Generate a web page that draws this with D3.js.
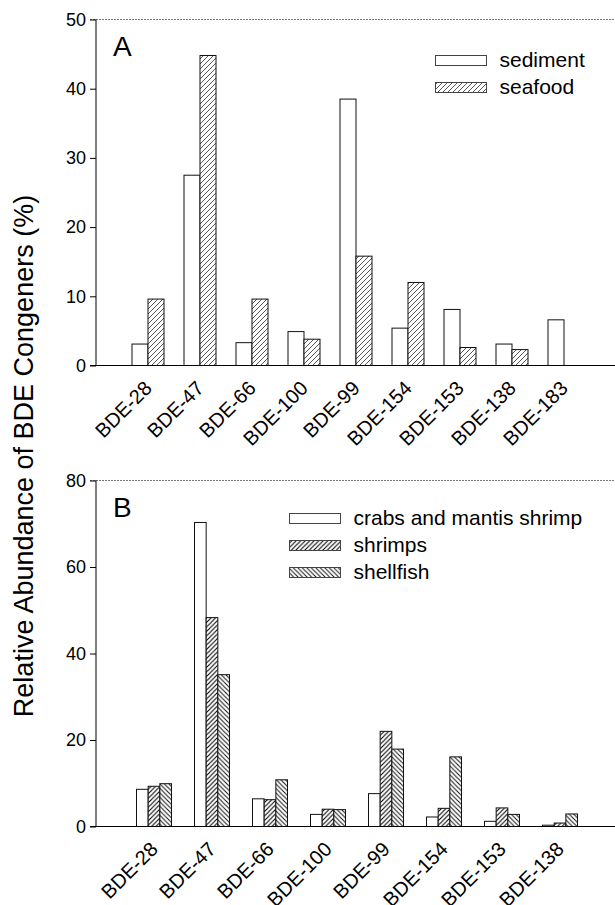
<!DOCTYPE html>
<html>
<head>
<meta charset="utf-8">
<script src="https://cdn.jsdelivr.net/npm/d3@7"></script>
<style>
  body { margin: 0; background: #fff; }
  svg { display: block; font-family: "Liberation Sans", Arial, sans-serif; }
  .c-axis text { fill: #000; }
  .c-bar { stroke: #111; stroke-width: 1; }
</style>
</head>
<body>
<svg id="chart" width="615" height="905"></svg>
<script>
// Panel A: sediment vs seafood
const congenersA = ["BDE-28", "BDE-47", "BDE-66", "BDE-100", "BDE-99",
  "BDE-154", "BDE-153", "BDE-138", "BDE-183"];
const seriesA = ["sediment", "seafood"];
const sedimentValues = [3.1, 27.5, 3.3, 4.9, 38.5, 5.4, 8.1, 3.1, 6.6];
const seafoodValues = [9.6, 44.8, 9.6, 3.8, 15.8, 12.0, 2.6, 2.3, 0];
const ticksA = [0, 10, 20, 30, 40, 50];

// Panel B: seafood groups
const congenersB = ["BDE-28", "BDE-47", "BDE-66", "BDE-100", "BDE-99",
  "BDE-154", "BDE-153", "BDE-138"];
const seriesB = ["crabs and mantis shrimp", "shrimps", "shellfish"];
const crabsValues = [8.6, 70.3, 6.4, 2.8, 7.6, 2.2, 1.2, 0.3];
const shrimpsValues = [9.3, 48.3, 6.2, 4.0, 22.0, 4.2, 4.3, 0.8];
const shellfishValues = [9.9, 35.1, 10.8, 3.9, 17.9, 16.1, 2.8, 2.9];
const ticksB = [0, 20, 40, 60, 80];

const svg = d3.select("#chart");

// hatch fills
const defs = svg.append("defs");
function addHatch(id, size, dir, strokeWidth, color) {
  const p = defs.append("pattern")
    .attr("id", id)
    .attr("patternUnits", "userSpaceOnUse")
    .attr("width", size)
    .attr("height", size);
  p.append("rect").attr("width", size).attr("height", size).attr("fill", "#fff");
  const h = size / 2;
  const d = dir > 0
    ? `M0,${size} L${size},0 M${-h},${h} L${h},${-h} M${h},${size + h} L${size + h},${h}`
    : `M0,0 L${size},${size} M${-h},${h} L${h},${size + h} M${h},${-h} L${size + h},${h}`;
  p.append("path")
    .attr("d", d)
    .attr("stroke", color)
    .attr("stroke-width", strokeWidth);
}
addHatch("hatch-seafood", 5, 1, 0.9, "#444");
addHatch("hatch-shrimps", 4.5, 1, 1.1, "#000");
addHatch("hatch-shellfish", 4.5, -1, 1, "#111");

function BarPanel(parent, options) {
  const {
    left = 96,
    right = 615,
    top,
    bottom,
    categories,
    series,
    values,
    fills,
    yMax,
    ticks,
    range,
    groupWidth,
    letter,
    legend
  } = options;

  const root = parent.append("g");
  const n = series.length;
  const step = (range[1] - range[0]) / categories.length;
  const pad = 1 - groupWidth / step;

  const x0 = d3.scaleBand()
    .domain(categories)
    .range(range)
    .paddingInner(pad)
    .paddingOuter(pad / 2);
  const x1 = d3.scaleBand()
    .domain(d3.range(n))
    .range([0, x0.bandwidth()]);
  const y = d3.scaleLinear().domain([0, yMax]).range([bottom, top]);

  // top frame line (dotted)
  root.append("line")
    .attr("x1", left - 6).attr("x2", right)
    .attr("y1", y(yMax)).attr("y2", y(yMax))
    .attr("stroke", "#777")
    .attr("stroke-dasharray", "2,1");

  // bars
  categories.forEach((cat, ci) => {
    const g = root.append("g").attr("transform", `translate(${x0(cat)},0)`);
    g.selectAll("rect")
      .data(values.map(v => v[ci]))
      .join("rect")
      .filter(d => d > 0)
      .attr("class", "c-bar")
      .attr("x", (d, i) => x1(i))
      .attr("width", x1.bandwidth())
      .attr("y", d => y(d))
      .attr("height", d => y(0) - y(d))
      .attr("fill", (d, i) => fills[i]);
  });

  // y axis
  const yAxis = root.append("g")
    .attr("class", "c-axis")
    .attr("transform", `translate(${left},0)`)
    .call(d3.axisLeft(y).tickValues(ticks).tickSize(6).tickPadding(4));
  yAxis.select(".domain").attr("stroke", "#000").attr("d", `M0,${bottom}V${top}`);
  yAxis.selectAll(".tick line").attr("stroke", "#000");
  yAxis.selectAll(".tick text")
    .attr("font-size", 18)
    .attr("font-family", "Liberation Sans, Arial, sans-serif");

  // x axis baseline
  root.append("line")
    .attr("x1", left - 6).attr("x2", right)
    .attr("y1", y(0)).attr("y2", y(0))
    .attr("stroke", "#000");

  // category labels, slanted
  const labelX = d => x0(d) + x0.bandwidth() / 2 + 5;
  const labelY = bottom + 24;
  root.selectAll("text.c-cat")
    .data(categories)
    .join("text")
    .attr("class", "c-cat")
    .attr("x", labelX)
    .attr("y", labelY)
    .attr("text-anchor", "end")
    .attr("font-size", 20)
    .attr("transform", d => `rotate(-45, ${labelX(d)}, ${labelY})`)
    .text(d => d);

  // panel letter
  root.append("text")
    .attr("x", 113)
    .attr("y", top + 36)
    .attr("font-size", 28)
    .text(letter);

  // legend
  const lg = root.append("g");
  series.forEach((s, i) => {
    const ly = legend.y + i * 27;
    lg.append("rect")
      .attr("x", legend.x)
      .attr("y", ly)
      .attr("width", 51)
      .attr("height", 10)
      .attr("fill", fills[i])
      .attr("stroke", "#444")
      .attr("stroke-width", 1);
    lg.append("text")
      .attr("x", legend.x + 64)
      .attr("y", ly + 11)
      .attr("font-size", 21)
      .text(s);
  });

  return root;
}

BarPanel(svg, {
  top: 19.5,
  bottom: 365.5,
  categories: congenersA,
  series: seriesA,
  values: [sedimentValues, seafoodValues],
  fills: ["#fff", "url(#hatch-seafood)"],
  yMax: 50,
  ticks: ticksA,
  range: [122, 590],
  groupWidth: 32,
  letter: "A",
  legend: { x: 435.5, y: 55.5 }
});

BarPanel(svg, {
  top: 480.5,
  bottom: 826.5,
  categories: congenersB,
  series: seriesB,
  values: [crabsValues, shrimpsValues, shellfishValues],
  fills: ["#fff", "url(#hatch-shrimps)", "url(#hatch-shellfish)"],
  yMax: 80,
  ticks: ticksB,
  range: [125, 589],
  groupWidth: 35,
  letter: "B",
  legend: { x: 289.5, y: 513.5 }
});

// shared y title
svg.append("text")
  .attr("transform", "translate(33,456) rotate(-90)")
  .attr("text-anchor", "middle")
  .attr("font-size", 27)
  .text("Relative Abundance of BDE Congeners (%)");
</script>
</body>
</html>
